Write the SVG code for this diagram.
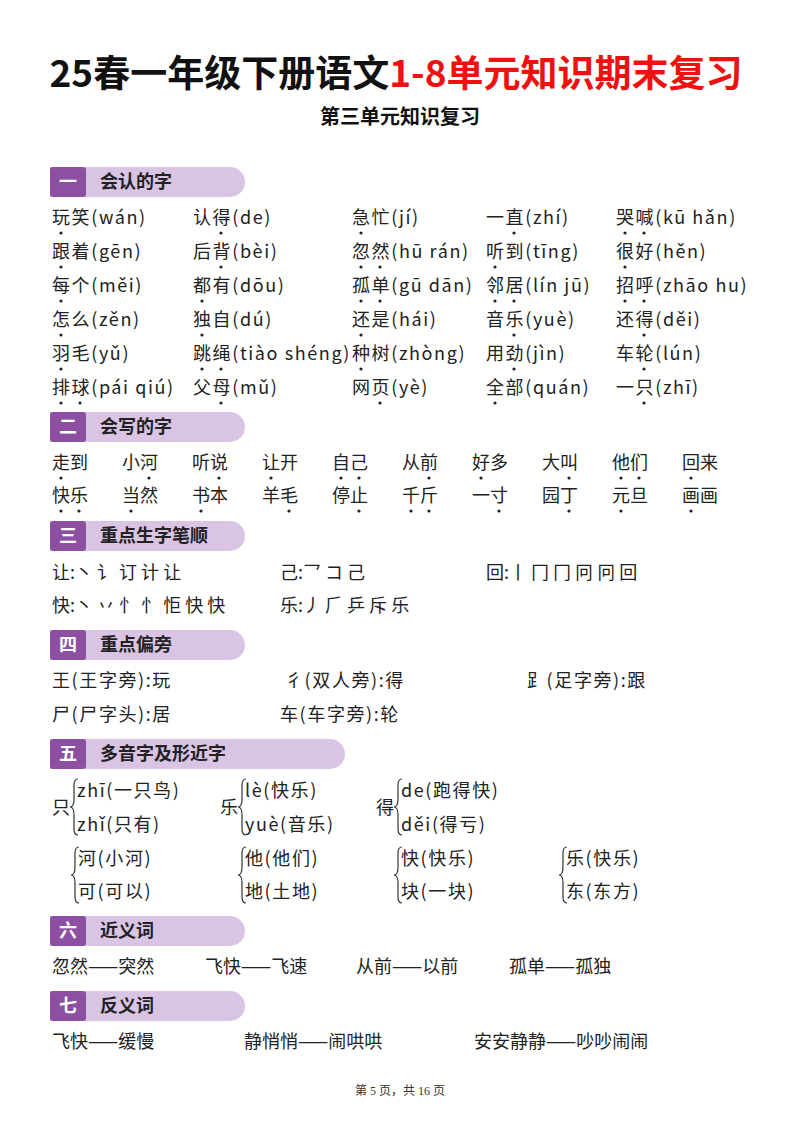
<svg xmlns="http://www.w3.org/2000/svg" width="800" height="1132" viewBox="0 0 800 1132">
<style>
.t{font-family:"Noto Sans CJK SC","Noto Sans",sans-serif;font-size:18px;fill:#222}
.w{letter-spacing:1.6px}
.h{font-family:"Noto Sans CJK SC",sans-serif;font-size:18px;font-weight:bold;fill:#222}
.n{font-family:"Noto Sans CJK SC",sans-serif;font-size:18px;font-weight:bold;fill:#fff}
.lt{fill:#D9C4E4}.dk{fill:#8C4FA2}
.d{fill:#222}
.br{fill:none;stroke:#333;stroke-width:1.2}
</style>
<rect width="800" height="1132" fill="#fff"/>
<g id="title">
<text x="396" y="87" text-anchor="middle" font-family="Noto Sans CJK SC,sans-serif" font-size="37" font-weight="bold"><tspan fill="#111">25春一年级下册语文</tspan><tspan fill="#F01010">1-8单元知识期末复习</tspan></text>
<text x="400" y="124" text-anchor="middle" font-family="Noto Sans CJK SC,sans-serif" font-size="20" font-weight="bold" fill="#111">第三单元知识复习</text>
</g>
<g id="headers">
<path class="lt" d="M50 167H230a15 15 0 0 1 0 30H50Z"/><rect class="dk" x="50" y="167" width="36" height="30" rx="3"/><text class="n" x="68" y="188" text-anchor="middle">一</text><text class="h" x="100" y="188">会认的字</text>
<path class="lt" d="M50 412H230a15 15 0 0 1 0 30H50Z"/><rect class="dk" x="50" y="412" width="36" height="30" rx="3"/><text class="n" x="68" y="433" text-anchor="middle">二</text><text class="h" x="100" y="433">会写的字</text>
<path class="lt" d="M50 521H230a15 15 0 0 1 0 30H50Z"/><rect class="dk" x="50" y="521" width="36" height="30" rx="3"/><text class="n" x="68" y="542" text-anchor="middle">三</text><text class="h" x="100" y="542">重点生字笔顺</text>
<path class="lt" d="M50 630H230a15 15 0 0 1 0 30H50Z"/><rect class="dk" x="50" y="630" width="36" height="30" rx="3"/><text class="n" x="68" y="651" text-anchor="middle">四</text><text class="h" x="100" y="651">重点偏旁</text>
<path class="lt" d="M50 739H330a15 15 0 0 1 0 30H50Z"/><rect class="dk" x="50" y="739" width="36" height="30" rx="3"/><text class="n" x="68" y="760" text-anchor="middle">五</text><text class="h" x="100" y="760">多音字及形近字</text>
<path class="lt" d="M50 916H230a15 15 0 0 1 0 30H50Z"/><rect class="dk" x="50" y="916" width="36" height="30" rx="3"/><text class="n" x="68" y="937" text-anchor="middle">六</text><text class="h" x="100" y="937">近义词</text>
<path class="lt" d="M50 991H230a15 15 0 0 1 0 30H50Z"/><rect class="dk" x="50" y="991" width="36" height="30" rx="3"/><text class="n" x="68" y="1012" text-anchor="middle">七</text><text class="h" x="100" y="1012">反义词</text>
</g>
<g id="s1" class="w">
<text class="t" x="52" y="224">玩笑(wán)</text><text class="t" x="193" y="224">认得(de)</text><text class="t" x="352" y="224">急忙(jí)</text><text class="t" x="486" y="224">一直(zhí)</text><text class="t" x="616" y="224">哭喊(kū hǎn)</text>
<text class="t" x="52" y="258">跟着(gēn)</text><text class="t" x="193" y="258">后背(bèi)</text><text class="t" x="352" y="258">忽然(hū rán)</text><text class="t" x="486" y="258">听到(tīng)</text><text class="t" x="616" y="258">很好(hěn)</text>
<text class="t" x="52" y="292">每个(měi)</text><text class="t" x="193" y="292">都有(dōu)</text><text class="t" x="352" y="292">孤单(gū dān)</text><text class="t" x="486" y="292">邻居(lín jū)</text><text class="t" x="616" y="292">招呼(zhāo hu)</text>
<text class="t" x="52" y="326">怎么(zěn)</text><text class="t" x="193" y="326">独自(dú)</text><text class="t" x="352" y="326">还是(hái)</text><text class="t" x="486" y="326">音乐(yuè)</text><text class="t" x="616" y="326">还得(děi)</text>
<text class="t" x="52" y="360">羽毛(yǔ)</text><text class="t" x="193" y="360">跳绳(tiào shéng)</text><text class="t" x="352" y="360">种树(zhòng)</text><text class="t" x="486" y="360">用劲(jìn)</text><text class="t" x="616" y="360">车轮(lún)</text>
<text class="t" x="52" y="394">排球(pái qiú)</text><text class="t" x="193" y="394">父母(mǔ)</text><text class="t" x="352" y="394">网页(yè)</text><text class="t" x="486" y="394">全部(quán)</text><text class="t" x="616" y="394">一只(zhī)</text>
<g class="d">
<circle cx="61" cy="233" r="1.6"/><circle cx="221" cy="233" r="1.6"/><circle cx="361" cy="233" r="1.6"/><circle cx="514" cy="233" r="1.6"/><circle cx="625" cy="233" r="1.6"/><circle cx="644" cy="233" r="1.6"/>
<circle cx="61" cy="267" r="1.6"/><circle cx="221" cy="267" r="1.6"/><circle cx="361" cy="267" r="1.6"/><circle cx="380" cy="267" r="1.6"/><circle cx="495" cy="267" r="1.6"/><circle cx="625" cy="267" r="1.6"/>
<circle cx="61" cy="301" r="1.6"/><circle cx="202" cy="301" r="1.6"/><circle cx="361" cy="301" r="1.6"/><circle cx="380" cy="301" r="1.6"/><circle cx="495" cy="301" r="1.6"/><circle cx="514" cy="301" r="1.6"/><circle cx="625" cy="301" r="1.6"/><circle cx="644" cy="301" r="1.6"/>
<circle cx="61" cy="335" r="1.6"/><circle cx="202" cy="335" r="1.6"/><circle cx="361" cy="335" r="1.6"/><circle cx="514" cy="335" r="1.6"/><circle cx="644" cy="335" r="1.6"/>
<circle cx="61" cy="369" r="1.6"/><circle cx="202" cy="369" r="1.6"/><circle cx="221" cy="369" r="1.6"/><circle cx="361" cy="369" r="1.6"/><circle cx="514" cy="369" r="1.6"/><circle cx="644" cy="369" r="1.6"/>
<circle cx="61" cy="403" r="1.6"/><circle cx="80" cy="403" r="1.6"/><circle cx="221" cy="403" r="1.6"/><circle cx="380" cy="403" r="1.6"/><circle cx="495" cy="403" r="1.6"/><circle cx="644" cy="403" r="1.6"/>
</g>
</g>
<g id="s2">
<text class="t" x="52" y="469">走到</text><text class="t" x="122" y="469">小河</text><text class="t" x="192" y="469">听说</text><text class="t" x="262" y="469">让开</text><text class="t" x="332" y="469">自己</text><text class="t" x="402" y="469">从前</text><text class="t" x="472" y="469">好多</text><text class="t" x="542" y="469">大叫</text><text class="t" x="612" y="469">他们</text><text class="t" x="682" y="469">回来</text>
<text class="t" x="52" y="502">快乐</text><text class="t" x="122" y="502">当然</text><text class="t" x="192" y="502">书本</text><text class="t" x="262" y="502">羊毛</text><text class="t" x="332" y="502">停止</text><text class="t" x="402" y="502">千斤</text><text class="t" x="472" y="502">一寸</text><text class="t" x="542" y="502">园丁</text><text class="t" x="612" y="502">元旦</text><text class="t" x="682" y="502">画画</text>
<g class="d">
<circle cx="61" cy="478" r="1.6"/><circle cx="149" cy="478" r="1.6"/><circle cx="219" cy="478" r="1.6"/><circle cx="271" cy="478" r="1.6"/><circle cx="341" cy="478" r="1.6"/><circle cx="359" cy="478" r="1.6"/><circle cx="429" cy="478" r="1.6"/><circle cx="481" cy="478" r="1.6"/><circle cx="569" cy="478" r="1.6"/><circle cx="621" cy="478" r="1.6"/><circle cx="639" cy="478" r="1.6"/><circle cx="691" cy="478" r="1.6"/>
<circle cx="61" cy="511" r="1.6"/><circle cx="79" cy="511" r="1.6"/><circle cx="131" cy="511" r="1.6"/><circle cx="201" cy="511" r="1.6"/><circle cx="289" cy="511" r="1.6"/><circle cx="359" cy="511" r="1.6"/><circle cx="411" cy="511" r="1.6"/><circle cx="429" cy="511" r="1.6"/><circle cx="499" cy="511" r="1.6"/><circle cx="569" cy="511" r="1.6"/><circle cx="621" cy="511" r="1.6"/><circle cx="691" cy="511" r="1.6"/>
</g>
</g>
<g id="s3">
<text class="t" x="52" y="579">让:丶  讠  订  计  让</text>
<text class="t" x="280" y="579">己:乛  コ  己</text>
<text class="t" x="486" y="579">回:丨  冂  冂  冋  冋  回</text>
<text class="t" x="52" y="612">快:丶 丷 忄 忄 怇 快 快</text>
<text class="t" x="280" y="612">乐:丿 ⺁ 乒 斥 乐</text>
</g>
<g id="s4" class="w">
<text class="t" x="52" y="687">王(王字旁):玩</text>
<text class="t" x="285" y="687">彳(双人旁):得</text>
<text class="t" x="527" y="687">⻊(足字旁):跟</text>
<text class="t" x="52" y="721">尸(尸字头):居</text>
<text class="t" x="280" y="721">车(车字旁):轮</text>
</g>
<g id="s5" class="w">
<text class="t" x="52" y="814">只</text>
<path class="br" d="M78 779q-4 0-4 6v14q0 8-4 8q4 0 4 8v14q0 6 4 6"/>
<text class="t" x="77" y="797">zhī(一只鸟)</text><text class="t" x="77" y="831">zhǐ(只有)</text>
<text class="t" x="220" y="814">乐</text>
<path class="br" d="M246 779q-4 0-4 6v14q0 8-4 8q4 0 4 8v14q0 6 4 6"/>
<text class="t" x="245" y="797">lè(快乐)</text><text class="t" x="245" y="831">yuè(音乐)</text>
<text class="t" x="376" y="814">得</text>
<path class="br" d="M402 779q-4 0-4 6v14q0 8-4 8q4 0 4 8v14q0 6 4 6"/>
<text class="t" x="401" y="797">de(跑得快)</text><text class="t" x="401" y="831">děi(得亏)</text>
<path class="br" d="M79 847q-4 0-4 6v14q0 8-4 8q4 0 4 8v14q0 6 4 6"/>
<text class="t" x="78" y="865">河(小河)</text><text class="t" x="78" y="898">可(可以)</text>
<path class="br" d="M246 847q-4 0-4 6v14q0 8-4 8q4 0 4 8v14q0 6 4 6"/>
<text class="t" x="245" y="865">他(他们)</text><text class="t" x="245" y="898">地(土地)</text>
<path class="br" d="M402 847q-4 0-4 6v14q0 8-4 8q4 0 4 8v14q0 6 4 6"/>
<text class="t" x="401" y="865">快(快乐)</text><text class="t" x="401" y="898">块(一块)</text>
<path class="br" d="M567 847q-4 0-4 6v14q0 8-4 8q4 0 4 8v14q0 6 4 6"/>
<text class="t" x="566" y="865">乐(快乐)</text><text class="t" x="566" y="898">东(东方)</text>
</g>
<g id="s6">
<text class="t" x="52" y="973">忽然——突然</text>
<text class="t" x="205" y="973">飞快——飞速</text>
<text class="t" x="356" y="973">从前——以前</text>
<text class="t" x="509" y="973">孤单——孤独</text>
</g>
<g id="s7">
<text class="t" x="52" y="1048">飞快——缓慢</text>
<text class="t" x="244" y="1048">静悄悄——闹哄哄</text>
<text class="t" x="474" y="1048">安安静静——吵吵闹闹</text>
</g>
<text x="400" y="1095" text-anchor="middle" font-family="Liberation Serif,Noto Sans CJK SC,serif" font-size="12" fill="#333">第 5 页，共 16 页</text>
</svg>
